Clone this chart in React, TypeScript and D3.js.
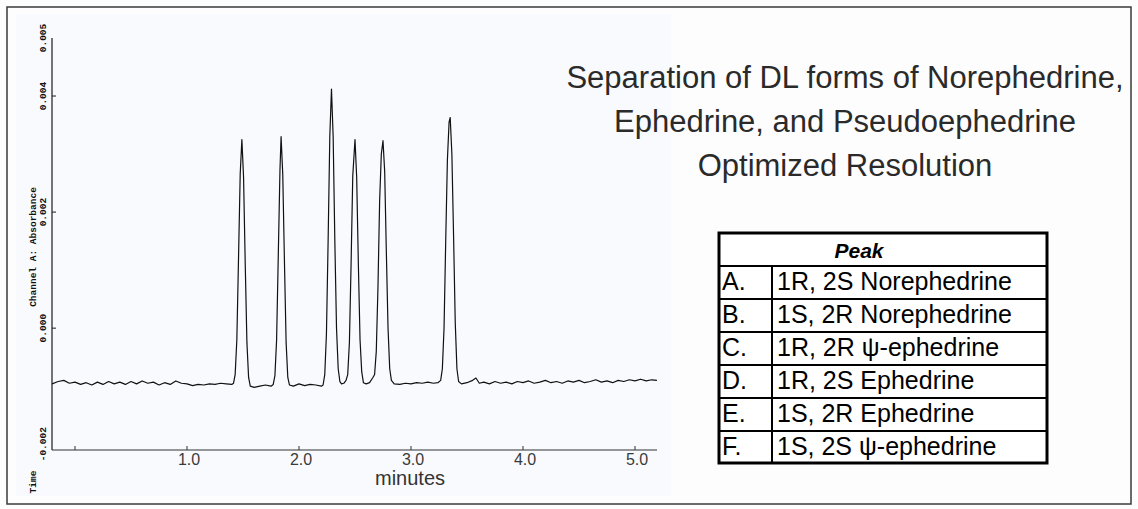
import React from "react";
import * as d3 from "d3";

// ---------- data ----------
const xTickValues = [0, 1, 2, 3, 4, 5];
const xTickLabels = ["", "1.0", "2.0", "3.0", "4.0", "5.0"];
const yTickValues = [0.004, 0.002, 0.0];
const yLabelValues = [0.005, 0.004, 0.002, 0.0, -0.002];
const yLabelTexts = ["0.005", "0.004", "0.002", "0.000", "-0.002"];
const titleLines = [
  "Separation of DL forms of Norephedrine,",
  "Ephedrine, and Pseudoephedrine",
  "Optimized Resolution",
];
const peakLetters = ["A.", "B.", "C.", "D.", "E.", "F."];
const peakNames = [
  "1R, 2S Norephedrine",
  "1S, 2R Norephedrine",
  "1R, 2R \u03c8-ephedrine",
  "1R, 2S Ephedrine",
  "1S, 2R Ephedrine",
  "1S, 2S \u03c8-ephedrine",
];
// [minutes, absorbance]
const chromatogram: [number, number][] = [
  [-0.205, -0.00096], [-0.15, -0.00092], [-0.1, -0.0009], [-0.05, -0.00095],
  [0.0, -0.00093], [0.05, -0.00097], [0.1, -0.00094], [0.15, -0.00098],
  [0.2, -0.00093], [0.25, -0.00097], [0.3, -0.00092], [0.35, -0.00096],
  [0.4, -0.00093], [0.45, -0.00097], [0.5, -0.00092], [0.55, -0.00096],
  [0.6, -0.00091], [0.65, -0.00095], [0.7, -0.00093], [0.75, -0.00098],
  [0.8, -0.00094], [0.85, -0.00097], [0.9, -0.00091], [0.95, -0.00095],
  [1.0, -0.00096], [1.05, -0.00099], [1.1, -0.00097], [1.15, -0.00098],
  [1.2, -0.00096], [1.25, -0.00097], [1.3, -0.00095], [1.35, -0.00096],
  [1.4, -0.00097],
  // peak A
  [1.415, -0.00095], [1.43, -0.0008], [1.445, -0.0002], [1.46, 0.0012],
  [1.475, 0.00265], [1.49, 0.00325], [1.505, 0.0026], [1.52, 0.0011],
  [1.535, -0.00025], [1.55, -0.00085], [1.565, -0.001], [1.6, -0.00102],
  [1.65, -0.001], [1.7, -0.00098], [1.75, -0.001],
  // peak B
  [1.77, -0.00097], [1.785, -0.00082], [1.8, -0.0002], [1.815, 0.00125],
  [1.83, 0.00272], [1.84, 0.0033], [1.855, 0.00265], [1.87, 0.00115],
  [1.885, -0.00025], [1.9, -0.00085], [1.915, -0.00098], [1.95, -0.001],
  [2.0, -0.00096], [2.05, -0.00099], [2.1, -0.00097], [2.15, -0.00098],
  [2.2, -0.001],
  // peak C
  [2.215, -0.00098], [2.23, -0.0008], [2.245, -0.0001], [2.26, 0.0015],
  [2.275, 0.0033], [2.29, 0.00412], [2.305, 0.0033], [2.32, 0.0015],
  [2.335, 0.0], [2.35, -0.0007], [2.365, -0.00092], [2.38, -0.00096],
  [2.4, -0.00095], [2.42, -0.0009],
  // peak D
  [2.435, -0.0008], [2.45, -0.00025], [2.465, 0.0011], [2.48, 0.00262],
  [2.5, 0.00325], [2.515, 0.0026], [2.53, 0.0011], [2.545, -0.0002],
  [2.56, -0.00075], [2.575, -0.00094], [2.6, -0.00096], [2.63, -0.00094],
  [2.66, -0.00085],
  // peak E
  [2.675, -0.0008], [2.69, -0.0004], [2.705, 0.0007], [2.72, 0.0022],
  [2.735, 0.003], [2.75, 0.00323], [2.765, 0.0027], [2.78, 0.0013],
  [2.795, 0.0], [2.81, -0.0007], [2.825, -0.0009], [2.85, -0.00096],
  [2.9, -0.00097], [2.95, -0.00095], [3.0, -0.00096], [3.05, -0.00094],
  [3.1, -0.00095], [3.15, -0.00093], [3.2, -0.00095], [3.24, -0.00094],
  // peak F
  [3.265, -0.0009], [3.28, -0.0007], [3.295, 0.0], [3.31, 0.0015],
  [3.325, 0.0029], [3.34, 0.00355], [3.35, 0.00363], [3.365, 0.003],
  [3.38, 0.0016], [3.395, 0.0001], [3.41, -0.0007], [3.425, -0.00092],
  [3.45, -0.00096], [3.5, -0.00094], [3.55, -0.0009], [3.58, -0.00086],
  [3.61, -0.00095], [3.65, -0.00093], [3.7, -0.00096], [3.75, -0.00092],
  [3.8, -0.00095], [3.85, -0.00093], [3.9, -0.00096], [3.95, -0.00092],
  [4.0, -0.00094], [4.05, -0.00091], [4.1, -0.00095], [4.15, -0.00093],
  [4.2, -0.0009], [4.25, -0.00094], [4.3, -0.00092], [4.35, -0.00095],
  [4.4, -0.00091], [4.45, -0.00093], [4.5, -0.0009], [4.55, -0.00094],
  [4.6, -0.00092], [4.65, -0.00089], [4.7, -0.00093], [4.75, -0.00091],
  [4.8, -0.00094], [4.85, -0.0009], [4.9, -0.00092], [4.95, -0.00089],
  [5.0, -0.00091], [5.05, -0.00088], [5.1, -0.00091], [5.15, -0.00089],
  [5.196, -0.0009],
];

// ---------- layout ----------
const W = 1138;
const H = 509;
const axisX = 52;
const axisBottom = 450;

export default function App() {
  const x = d3.scaleLinear().domain([0, 5]).range([75, 635]);
  const y = d3.scaleLinear().domain([-0.0021, 0.005]).range([axisBottom, 38]);
  const line = d3
    .line<[number, number]>()
    .x((d) => x(d[0]))
    .y((d) => y(d[1]))
    .curve(d3.curveLinear);

  const monoFont = "'Liberation Mono', 'DejaVu Sans Mono', monospace";
  const sansFont = "'Liberation Sans', Arial, sans-serif";

  const tableLeft = 719;
  const tableTop = 233;
  const tableRight = 1047;
  const rowH = 33;
  const divX = 772;
  const tableBottom = tableTop + rowH * (peakNames.length + 1) - 1;

  return (
    <svg
      width={W}
      height={H}
      viewBox={`0 0 ${W} ${H}`}
      style={{ position: "fixed", left: 0, top: 0, background: "#fdfdfd" }}
    >
      {/* outer frame */}
      <rect x={7} y={7} width={W - 14} height={H - 12} fill="#fdfdfd" stroke="#3a3a3a" strokeWidth={1.5} />
      {/* scanned chart panel */}
      <rect x={16} y={14} width={655} height={482} fill="#f8fafd" />

      {/* y axis */}
      <line x1={axisX} x2={axisX} y1={y(0.005)} y2={axisBottom} stroke="#1a1a1a" strokeWidth={1.2} />
      {yTickValues.map((v) => (
        <line key={"yt" + v} x1={axisX} x2={axisX + 4} y1={y(v)} y2={y(v)} stroke="#1a1a1a" strokeWidth={1} />
      ))}
      {yLabelValues.map((v, i) => (
        <text
          key={"yl" + i}
          transform={`translate(${axisX - 6},${y(v)}) rotate(-90)`}
          textAnchor="middle"
          fontFamily={monoFont}
          fontWeight="bold"
          fontSize={9.5}
          fill="#111"
        >
          {yLabelTexts[i]}
        </text>
      ))}
      <text
        transform={`translate(36,247) rotate(-90)`}
        textAnchor="middle"
        fontFamily={monoFont}
        fontWeight="bold"
        fontSize={9.5}
        fill="#111"
      >
        Channel A: Absorbance
      </text>
      <text
        transform={`translate(36,482) rotate(-90)`}
        textAnchor="middle"
        fontFamily={monoFont}
        fontWeight="bold"
        fontSize={9.5}
        fill="#111"
      >
        Time
      </text>

      {/* x axis */}
      <line x1={axisX} x2={657} y1={axisBottom} y2={axisBottom} stroke="#333" strokeWidth={1.1} />
      {xTickValues.map((v) => (
        <line key={"xt" + v} x1={x(v)} x2={x(v)} y1={axisBottom} y2={axisBottom - 4} stroke="#333" strokeWidth={1} />
      ))}
      {xTickValues.map((v, i) =>
        xTickLabels[i] ? (
          <text key={"xl" + v} x={x(v) + 2} y={465} textAnchor="middle" fontFamily={sansFont} fontSize={16} fill="#3a3a3a">
            {xTickLabels[i]}
          </text>
        ) : null
      )}
      <text x={410} y={485} textAnchor="middle" fontFamily={sansFont} fontSize={20} fill="#333">
        minutes
      </text>

      {/* trace */}
      <path d={line(chromatogram) || ""} fill="none" stroke="#111" strokeWidth={1.2} strokeLinejoin="round" />

      {/* title */}
      {titleLines.map((t, i) => (
        <text key={"t" + i} x={845} y={88 + i * 44} textAnchor="middle" fontFamily={sansFont} fontSize={31} fill="#2a2a2a">
          {t}
        </text>
      ))}

      {/* table */}
      <rect x={tableLeft} y={tableTop} width={tableRight - tableLeft} height={tableBottom - tableTop} fill="#fff" stroke="#000" strokeWidth={3} />
      {peakNames.map((_, i) => (
        <line key={"hl" + i} x1={tableLeft} x2={tableRight} y1={tableTop + rowH * (i + 1)} y2={tableTop + rowH * (i + 1)} stroke="#000" strokeWidth={2} />
      ))}
      <line x1={divX} x2={divX} y1={tableTop + rowH} y2={tableBottom} stroke="#000" strokeWidth={2} />
      <text x={859} y={tableTop + 25} textAnchor="middle" fontFamily={sansFont} fontWeight="bold" fontStyle="italic" fontSize={21} fill="#000">
        Peak
      </text>
      {peakNames.map((name, i) => (
        <g key={"row" + i}>
          <text x={722} y={tableTop + rowH * (i + 1) + 24} fontFamily={sansFont} fontSize={25} fill="#000">
            {peakLetters[i]}
          </text>
          <text x={777} y={tableTop + rowH * (i + 1) + 24} fontFamily={sansFont} fontSize={25} fill="#000">
            {name}
          </text>
        </g>
      ))}
    </svg>
  );
}
